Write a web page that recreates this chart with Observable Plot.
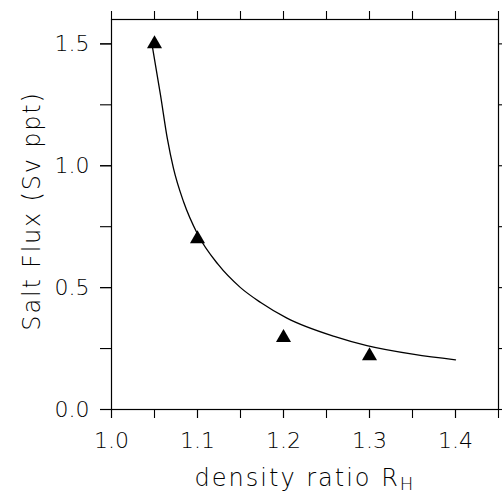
<!DOCTYPE html>
<html>
<head>
<meta charset="utf-8">
<script src="https://cdn.jsdelivr.net/npm/d3@7"></script>
<script src="https://cdn.jsdelivr.net/npm/@observablehq/plot@0.6"></script>
<style>
  html, body { margin: 0; padding: 0; background: #fff; }
  #chart svg { display: block; }
</style>
</head>
<body>
<div id="chart"></div>
<script>
// Observed points (triangles)
const triX = [1.05, 1.10, 1.20, 1.30];
const triY = [1.50, 0.70, 0.295, 0.22];

// Model curve
const curveX = [1.047, 1.057, 1.065, 1.072, 1.084, 1.100, 1.124, 1.150, 1.173, 1.204, 1.259, 1.297, 1.352, 1.400];
const curveY = [1.50, 1.29, 1.11, 0.99, 0.85, 0.72, 0.595, 0.50, 0.440, 0.375, 0.300, 0.262, 0.226, 0.204];

// Ticks
const xMinorTicks = [1.0, 1.05, 1.1, 1.15, 1.2, 1.25, 1.3, 1.35, 1.4, 1.45];
const xLabelTicks = [1.0, 1.1, 1.2, 1.3, 1.4];
const yMinorTicks = [0, 0.25, 0.5, 0.75, 1.0, 1.25, 1.5];
const yLabelTicks = [0, 0.5, 1.0, 1.5];

const xTitle = "density ratio R";
const xTitleSub = "H";
const yTitle = "Salt Flux (Sv ppt)";

const font = "'DejaVu Sans', 'Liberation Sans', sans-serif";
const fontSize = 22;

const tri = triX.map((x, i) => ({x, y: triY[i]}));
const curve = curveX.map((x, i) => ({x, y: curveY[i]}));

const axisCommon = {label: null, color: "black", strokeWidth: 1.1, strokeOpacity: 1};

const plot = Plot.plot({
  width: 502,
  height: 493,
  marginLeft: 111,
  marginRight: 4,
  marginTop: 19,
  marginBottom: 84,
  style: {fontFamily: font, fontWeight: 200, background: "#fff", color: "#000"},
  x: {domain: [1.0, 1.45]},
  y: {domain: [0, 1.6]},
  marks: [
    Plot.frame({stroke: "#000", strokeWidth: 1.2}),
    // bottom axis: ticks every 0.05, labels every 0.1
    Plot.axisX({...axisCommon, anchor: "bottom", ticks: xMinorTicks, tickSize: 9, tickFormat: () => ""}),
    Plot.axisX({...axisCommon, anchor: "bottom", ticks: xLabelTicks, tickSize: 9, tickPadding: 14, tickFormat: d3.format(".1f"), fontSize, fontFamily: font, fontWeight: 200}),
    // top axis ticks
    Plot.axisX({...axisCommon, anchor: "top", ticks: xMinorTicks, tickSize: 9, tickFormat: () => ""}),
    // left axis
    Plot.axisY({...axisCommon, anchor: "left", ticks: yMinorTicks, tickSize: 11, tickFormat: () => ""}),
    Plot.axisY({...axisCommon, anchor: "left", ticks: yLabelTicks, tickSize: 11, tickPadding: 11, tickFormat: d3.format(".1f"), fontSize, fontFamily: font, fontWeight: 200}),
    // right axis ticks
    Plot.axisY({...axisCommon, anchor: "right", ticks: yMinorTicks, tickSize: 9, tickFormat: () => ""}),
    // curve
    Plot.line(curve, {x: "x", y: "y", curve: "monotone-x", stroke: "#000", strokeWidth: 1.3}),
    // triangles
    Plot.dot(tri, {x: "x", y: "y", symbol: "triangle", r: 5.6, fill: "#000", stroke: "none"})
  ]
});

document.getElementById("chart").appendChild(plot);

// Axis titles (x title with subscript)
const svg = d3.select(plot);
const xt = svg.append("text")
  .attr("x", 305)
  .attr("y", 486)
  .attr("text-anchor", "middle")
  .attr("font-family", font)
  .attr("font-weight", 200)
  .attr("font-size", 24)
  .attr("letter-spacing", 2)
  .attr("fill", "#000");
xt.append("tspan").text(xTitle);
xt.append("tspan").attr("font-size", 18).attr("dy", 4).text(xTitleSub);

svg.append("text")
  .attr("transform", "translate(40,211) rotate(-90)")
  .attr("text-anchor", "middle")
  .attr("font-family", font)
  .attr("font-weight", 200)
  .attr("font-size", 24)
  .attr("letter-spacing", 1.8)
  .attr("fill", "#000")
  .text(yTitle);
</script>
</body>
</html>
